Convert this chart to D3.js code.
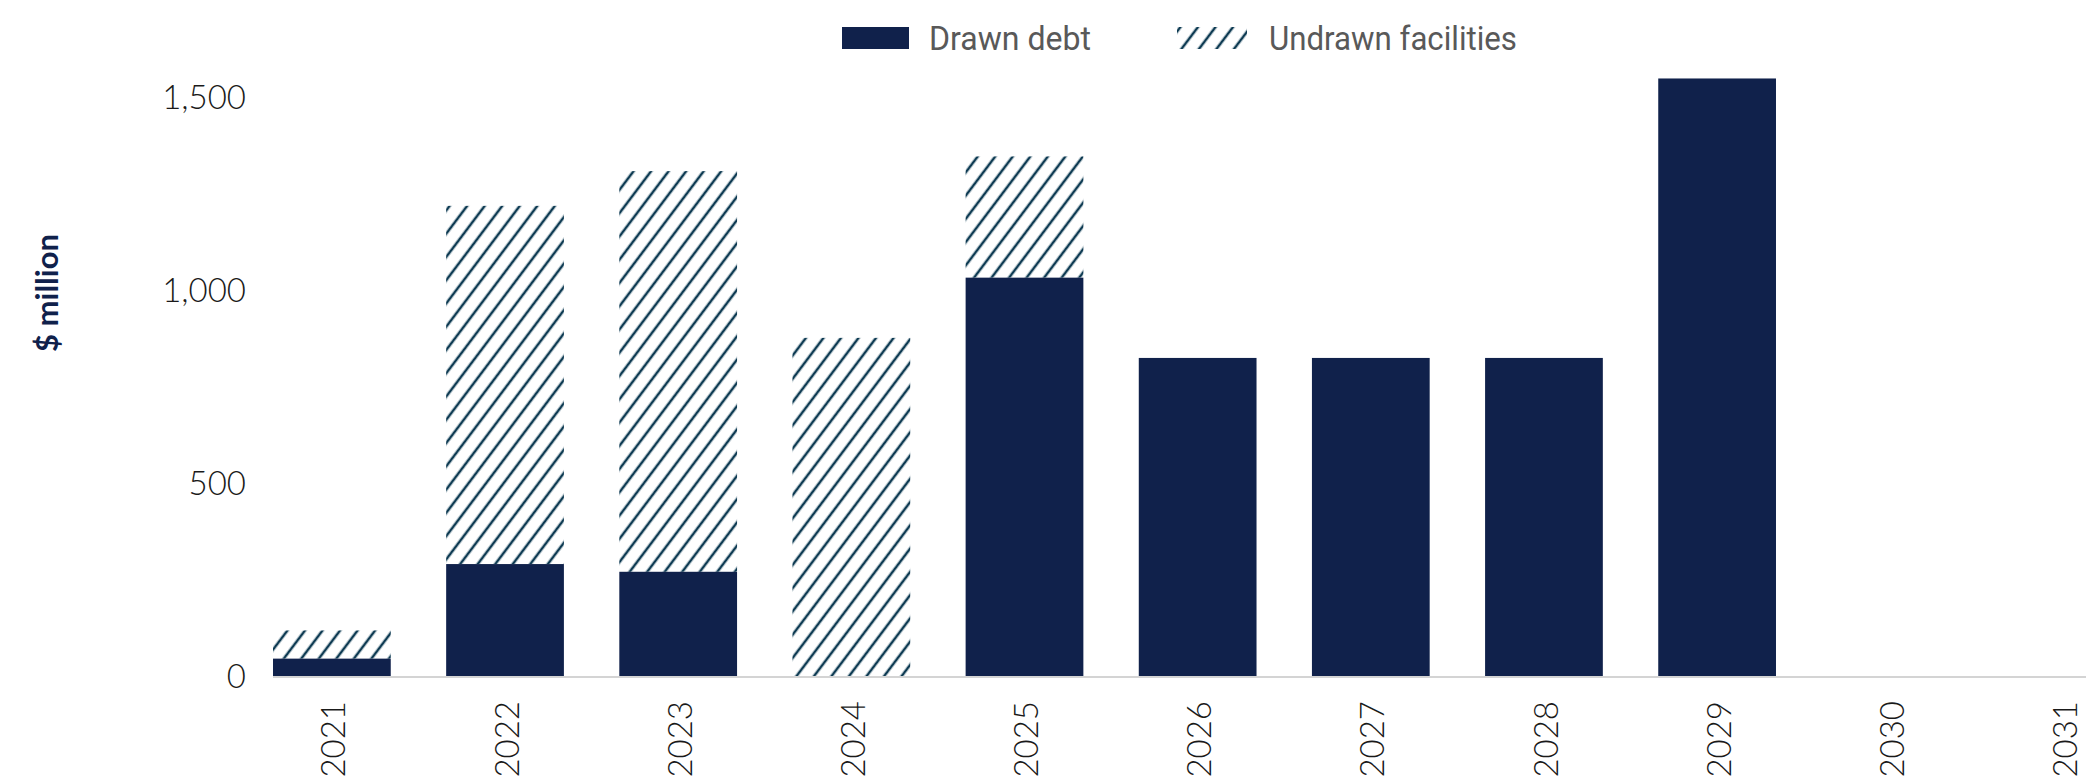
<!DOCTYPE html>
<html>
<head>
<meta charset="utf-8">
<script src="https://cdn.jsdelivr.net/npm/d3@7"></script>
<style>
html, body { margin: 0; padding: 0; background: #fff; }
svg { display: block; }
</style>
</head>
<body>
<svg></svg>
<script>
const width = 2086;
const height = 784;
const navy = '#10214b';
const hatchColor = '#0d3a52';

const years = ['2021','2022','2023','2024','2025','2026','2027','2028','2029','2030','2031'];
const drawn = [45, 290, 270, 0, 1032, 824, 824, 824, 1548, 0, 0];
const undrawn = [73, 928, 1038, 876, 314, 0, 0, 0, 0, 0, 0];
const yTicks = [0, 500, 1000, 1500];
const seriesNames = ['Drawn debt', 'Undrawn facilities'];

var svg = d3.select('svg').attr('width', width).attr('height', height);

// hatch pattern for undrawn facilities
var defs = svg.append('defs');
defs.append('pattern')
	.attr('id', 'hatch')
	.attr('patternUnits', 'userSpaceOnUse')
	.attr('width', 14).attr('height', 14)
	.attr('patternTransform', 'rotate(37)')
	.append('line')
	.attr('x1', 7).attr('y1', 0).attr('x2', 7).attr('y2', 14)
	.style('stroke', hatchColor).style('stroke-width', 2.6);

var x = d3.scaleBand().domain(years)
	.range([245.3, 2150]).paddingInner(0.32).paddingOuter(0.16);
var y = d3.scaleLinear().domain([0, 1500]).range([676, 97]);

var data = years.map((d, i) => ({ year: d, drawn: drawn[i], undrawn: undrawn[i] }));

// undrawn stacked on top of drawn
svg.append('g').selectAll('rect.undrawn')
	.data(data.filter(d => d.undrawn > 0))
	.enter().append('rect').classed('undrawn', true)
	.attr('x', d => x(d.year))
	.attr('width', x.bandwidth())
	.attr('y', d => y(d.drawn + d.undrawn))
	.attr('height', d => y(d.drawn) - y(d.drawn + d.undrawn))
	.style('fill', 'url(#hatch)');

svg.append('g').selectAll('rect.drawn')
	.data(data.filter(d => d.drawn > 0))
	.enter().append('rect').classed('drawn', true)
	.attr('x', d => x(d.year))
	.attr('width', x.bandwidth())
	.attr('y', d => y(d.drawn))
	.attr('height', d => y(0) - y(d.drawn))
	.style('fill', navy);

// baseline
svg.append('line')
	.attr('x1', x(years[0])).attr('x2', width)
	.attr('y1', y(0) + 1).attr('y2', y(0) + 1)
	.style('stroke', '#d4d4d4').style('stroke-width', 2);

// y ticks
svg.append('g').selectAll('text.ytick')
	.data(yTicks)
	.enter().append('text').classed('ytick', true)
	.attr('x', 246)
	.attr('y', d => y(d))
	.attr('dy', '0.35em')
	.attr('text-anchor', 'end')
	.style('font-family', 'Lato')
	.style('font-weight', 300)
	.style('font-size', '33px')
	.style('fill', '#1a1a1a')
	.text(d => d3.format(',')(d));

// x labels
svg.append('g').selectAll('text.xtick')
	.data(years)
	.enter().append('text').classed('xtick', true)
	.attr('transform', d => 'translate(' + (x(d) + x.bandwidth()/2 + 2) + ',' + (y(0) + 25) + ') rotate(-90)')
	.attr('dy', '0.35em')
	.attr('text-anchor', 'end')
	.style('font-family', 'Lato')
	.style('font-weight', 300)
	.style('font-size', '33px')
	.style('fill', '#1a1a1a')
	.text(d => d);

// y title
svg.append('text')
	.attr('transform', 'translate(47,293) rotate(-90)')
	.attr('dy', '0.35em')
	.attr('text-anchor', 'middle')
	.style('font-family', 'Lato')
	.style('font-weight', 700)
	.style('font-size', '31px')
	.style('fill', navy)
	.text('$ million');

// legend
var legend = svg.append('g');
legend.append('rect')
	.attr('x', 842).attr('y', 27).attr('width', 67).attr('height', 22)
	.style('fill', navy);
legend.append('text')
	.attr('x', 929).attr('y', 38)
	.attr('dy', '0.35em')
	.attr('textLength', 162).attr('lengthAdjust', 'spacingAndGlyphs')
	.style('font-family', 'Roboto')
	.style('font-size', '33px')
	.style('fill', '#595959')
	.text(seriesNames[0]);
legend.append('rect')
	.attr('x', 1177).attr('y', 27).attr('width', 70).attr('height', 22)
	.style('fill', 'url(#hatch)');
legend.append('text')
	.attr('x', 1269).attr('y', 38)
	.attr('dy', '0.35em')
	.attr('textLength', 248).attr('lengthAdjust', 'spacingAndGlyphs')
	.style('font-family', 'Roboto')
	.style('font-size', '33px')
	.style('fill', '#595959')
	.text(seriesNames[1]);
</script>
</body>
</html>
